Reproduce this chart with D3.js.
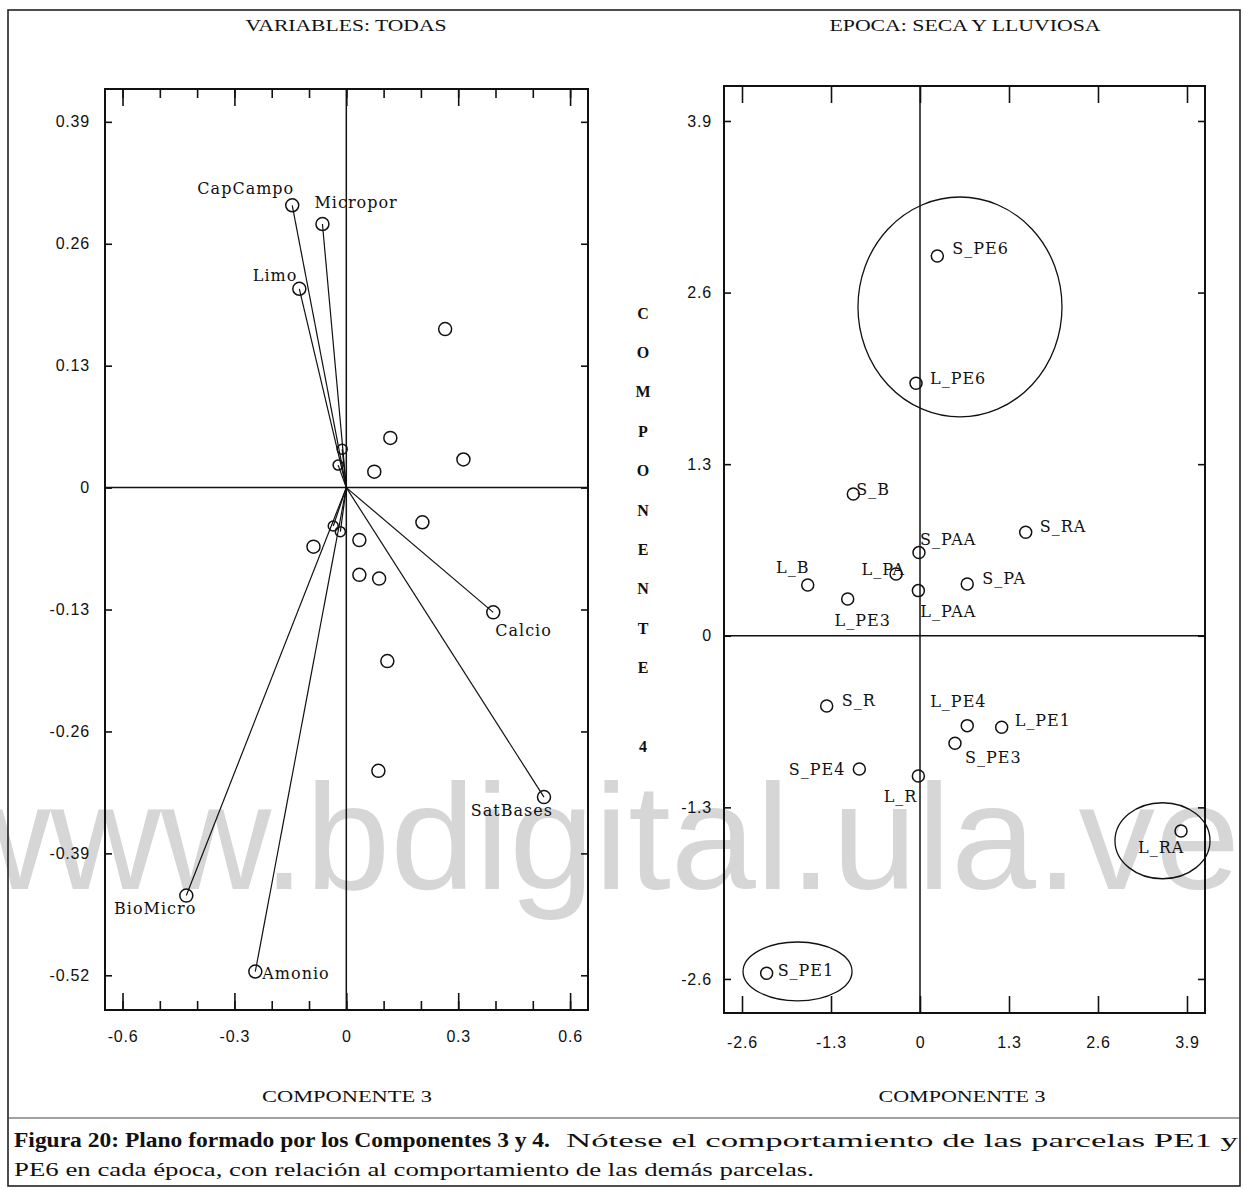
<!DOCTYPE html>
<html lang="es">
<head>
<meta charset="UTF-8">
<title>Figura 20: Plano formado por los Componentes 3 y 4</title>
<script src="https://d3js.org/d3.v7.min.js"></script>
<style>
    body { margin: 0; background: #fff; }
    svg { display: block; }
    .tick text { font-family: "Liberation Sans", Arial, sans-serif; font-size: 16px; letter-spacing: 0.8px; fill: #111; }
    .tick line { stroke: #111; stroke-width: 1.6px; }
    .lbl { font-family: "DejaVu Serif", serif; font-size: 16px; letter-spacing: 1px; fill: #111; }
    .ttl { font-family: "Liberation Serif", serif; font-size: 17px; fill: #111; }
    .cap { font-family: "Liberation Serif", serif; font-size: 19px; fill: #111; }
    .mark { fill: none; stroke: #111; stroke-width: 1.5px; }
</style>
</head>
<body>
<script>
// ---- left panel: variables (componente 3 vs componente 4)
const vectorNames = ["CapCampo", "Micropor", "Limo", "Calcio", "SatBases", "BioMicro", "Amonio"];
const vectorC3 = [-0.145, -0.064, -0.126, 0.394, 0.530, -0.429, -0.244];
const vectorC4 = [0.301, 0.281, 0.212, -0.133, -0.330, -0.435, -0.516];
// short unlabeled vectors close to the origin
const shortC3 = [-0.022, -0.011, -0.035, -0.016];
const shortC4 = [0.024, 0.041, -0.041, -0.047];
// unlabeled points
const pointC3 = [0.265, 0.118, 0.314, 0.075, 0.204, -0.088, 0.035, 0.035, 0.088, 0.110, 0.086];
const pointC4 = [0.169, 0.053, 0.030, 0.017, -0.037, -0.063, -0.056, -0.093, -0.097, -0.185, -0.302];

const leftTicksX = [-0.6, -0.3, 0, 0.3, 0.6];
const leftMinorX = [-0.6, -0.5, -0.4, -0.3, -0.2, -0.1, 0, 0.1, 0.2, 0.3, 0.4, 0.5, 0.6];
const leftTicksY = [0.39, 0.26, 0.13, 0, -0.13, -0.26, -0.39, -0.52];

// ---- right panel: parcelas, seca (S_) y lluviosa (L_)
const parcelNames = ["S_PE6", "L_PE6", "S_B", "S_RA", "S_PAA", "L_PA", "L_B", "S_PA", "L_PAA",
    "L_PE3", "S_R", "L_PE4", "L_PE1", "S_PE3", "S_PE4", "L_R", "L_RA", "S_PE1"];
const parcelC3 = [0.253, -0.058, -0.974, 1.544, -0.015, -0.35, -1.64, 0.69, -0.024,
    -1.056, -1.363, 0.69, 1.193, 0.511, -0.886, -0.024, 3.813, -2.240];
const parcelC4 = [2.877, 1.913, 1.074, 0.784, 0.630, 0.468, 0.385, 0.392, 0.342,
    0.279, -0.532, -0.681, -0.693, -0.815, -1.009, -1.062, -1.479, -2.557];

// hand drawn ellipses around PE6, L_RA and S_PE1 (data units)
const groupC3 = [0.584, 3.542, -1.789];
const groupC4 = [2.491, -1.553, -2.543];
const groupR3 = [1.49, 0.694, 0.796];
const groupR4 = [0.833, 0.288, 0.223];

const rightTicksX = [-2.6, -1.3, 0, 1.3, 2.6, 3.9];
const rightTicksY = [3.9, 2.6, 1.3, 0, -1.3, -2.6];

// label placement: [dx, dy, anchor] from the marker
const labelPos = {
    CapCampo: [2, -17, "end"], Micropor: [-8, -22, "start"], Limo: [-2, -13, "end"],
    Calcio: [2, 18, "start"], SatBases: [9, 13, "end"], BioMicro: [10, 13, "end"], Amonio: [7, 2, "start"],
    S_PE6: [15, -8, "start"], L_PE6: [14, -5, "start"], S_B: [3, -5, "start"], S_RA: [14, -6, "start"],
    S_PAA: [1, -13, "start"], L_PA: [9, -5, "end"], L_B: [-15, -18, "middle"], S_PA: [15, -6, "start"],
    L_PAA: [2, 21, "start"], L_PE3: [15, 21, "middle"], S_R: [15, -6, "start"], L_PE4: [-37, -24, "start"],
    L_PE1: [13, -7, "start"], S_PE3: [10, 14, "start"], S_PE4: [-14, 0, "end"], L_R: [-1, 20, "end"],
    L_RA: [-43, 16, "start"], S_PE1: [11, -3, "start"]
};

const width = 1244, height = 1190;
const svg = d3.select("body").append("svg").attr("width", width).attr("height", height);

// watermark of the scanned page
svg.append("text")
    .attr("x", -60).attr("y", 889)
    .attr("textLength", 1300).attr("lengthAdjust", "spacingAndGlyphs")
    .style("font-family", "'Liberation Sans', Arial, sans-serif")
    .style("font-size", "150px")
    .style("fill", "#d6d6d6")
    .text("www.bdigital.ula.ve");

// page frame
svg.append("rect").attr("x", 8).attr("y", 10).attr("width", 1232).attr("height", 1176)
    .attr("fill", "none").attr("stroke", "#222").attr("stroke-width", 1.6);
svg.append("line").attr("x1", 8).attr("x2", 1240).attr("y1", 1118).attr("y2", 1118)
    .attr("stroke", "#444").attr("stroke-width", 1);

const fmt = d => String(d);

function panel(cfg) {
    const x = d3.scaleLinear().domain(cfg.xDomain).range([cfg.left, cfg.right]);
    const y = d3.scaleLinear().domain(cfg.yDomain).range([cfg.bottom, cfg.top]);
    const g = svg.append("g");

    // axes: ticks point inward on all four sides
    const addAxis = (axis, tx, ty, labels) => {
        const a = g.append("g").attr("transform", `translate(${tx},${ty})`).call(axis);
        a.select(".domain").remove();
        if (!labels) a.selectAll("text").remove();
    };
    if (cfg.minorX) {
        addAxis(d3.axisBottom(x).tickValues(cfg.minorX).tickSize(-9).tickSizeOuter(0), 0, cfg.bottom, false);
        addAxis(d3.axisTop(x).tickValues(cfg.minorX).tickSize(-9).tickSizeOuter(0), 0, cfg.top, false);
    }
    addAxis(d3.axisBottom(x).tickValues(cfg.ticksX).tickFormat(fmt).tickSize(-17).tickPadding(cfg.padX).tickSizeOuter(0), 0, cfg.bottom, true);
    addAxis(d3.axisTop(x).tickValues(cfg.ticksX).tickSize(-17).tickSizeOuter(0), 0, cfg.top, false);
    addAxis(d3.axisLeft(y).tickValues(cfg.ticksY).tickFormat(fmt).tickSize(-7).tickPadding(cfg.padY).tickSizeOuter(0), cfg.left, 0, true);
    addAxis(d3.axisRight(y).tickValues(cfg.ticksY).tickSize(-7).tickSizeOuter(0), cfg.right, 0, false);

    g.append("rect")
        .attr("x", cfg.left).attr("y", cfg.top)
        .attr("width", cfg.right - cfg.left).attr("height", cfg.bottom - cfg.top)
        .attr("fill", "none").attr("stroke", "#111").attr("stroke-width", 2);
    g.append("line").attr("x1", x(0)).attr("x2", x(0)).attr("y1", cfg.top).attr("y2", cfg.bottom)
        .attr("stroke", "#111").attr("stroke-width", 1.5);
    g.append("line").attr("x1", cfg.left).attr("x2", cfg.right).attr("y1", y(0)).attr("y2", y(0))
        .attr("stroke", "#111").attr("stroke-width", 1.5);

    g.append("text").attr("class", "ttl").attr("text-anchor", "middle")
        .attr("x", cfg.titleX).attr("y", 31)
        .attr("textLength", cfg.titleLen).attr("lengthAdjust", "spacingAndGlyphs")
        .text(cfg.title);
    g.append("text").attr("class", "ttl").attr("text-anchor", "middle")
        .attr("x", cfg.xTitleX).attr("y", 1102)
        .attr("textLength", cfg.xTitleLen).attr("lengthAdjust", "spacingAndGlyphs")
        .text("COMPONENTE 3");
    return { g, x, y };
}

// ---------- left panel
const L = panel({
    xDomain: [-0.647, 0.648], yDomain: [-0.557, 0.425],
    left: 105, right: 588, top: 89, bottom: 1010,
    ticksX: leftTicksX, minorX: leftMinorX, ticksY: leftTicksY,
    padX: 21, padY: 15,
    title: "VARIABLES: TODAS", titleX: 346, titleLen: 201,
    xTitleX: 347, xTitleLen: 170
});

const vectors = vectorNames.map((n, i) => ({ name: n, c3: vectorC3[i], c4: vectorC4[i] }))
    .concat(shortC3.map((v, i) => ({ name: "", c3: v, c4: shortC4[i], small: true })));

L.g.selectAll(".vec").data(vectors).join("line")
    .attr("x1", L.x(0)).attr("y1", L.y(0))
    .attr("x2", d => L.x(d.c3)).attr("y2", d => L.y(d.c4))
    .attr("stroke", "#111").attr("stroke-width", 1.2);
L.g.selectAll(".vend").data(vectors).join("circle")
    .attr("class", "mark")
    .attr("cx", d => L.x(d.c3)).attr("cy", d => L.y(d.c4))
    .attr("r", d => d.small ? 5 : 6.5)
    .attr("fill", "#fff");
L.g.selectAll(".pt").data(pointC3.map((v, i) => ({ c3: v, c4: pointC4[i] }))).join("circle")
    .attr("class", "mark")
    .attr("cx", d => L.x(d.c3)).attr("cy", d => L.y(d.c4))
    .attr("r", 6.5);
L.g.selectAll(".vl").data(vectors.filter(d => d.name)).join("text")
    .attr("class", "lbl")
    .attr("x", d => L.x(d.c3) + labelPos[d.name][0])
    .attr("y", d => L.y(d.c4) + labelPos[d.name][1])
    .attr("dy", "0.35em")
    .attr("text-anchor", d => labelPos[d.name][2])
    .text(d => d.name);

// vertical axis title between panels
const yTitle = "COMPONENTE 4".split("");
svg.append("g").selectAll("text").data(yTitle).join("text")
    .attr("class", "ttl")
    .attr("text-anchor", "middle")
    .attr("x", 643)
    .attr("y", (d, i) => 313 + i * 39.4)
    .attr("dy", "0.35em")
    .style("font-weight", "bold")
    .style("font-size", "16px")
    .text(d => d);

// ---------- right panel
const R = panel({
    xDomain: [-2.863, 4.163], yDomain: [-2.858, 4.165],
    left: 724, right: 1205, top: 86, bottom: 1013,
    ticksX: rightTicksX, minorX: null, ticksY: rightTicksY,
    padX: 24, padY: 12,
    title: "EPOCA: SECA Y LLUVIOSA", titleX: 965, titleLen: 271,
    xTitleX: 962, xTitleLen: 167
});

R.g.selectAll(".grp").data(groupC3.map((v, i) => ({ c3: v, c4: groupC4[i], r3: groupR3[i], r4: groupR4[i] })))
    .join("ellipse")
    .attr("class", "mark")
    .attr("cx", d => R.x(d.c3)).attr("cy", d => R.y(d.c4))
    .attr("rx", d => R.x(d.r3) - R.x(0)).attr("ry", d => R.y(0) - R.y(d.r4))
    .style("stroke-width", "1.3px");

const parcels = parcelNames.map((n, i) => ({ name: n, c3: parcelC3[i], c4: parcelC4[i] }));
R.g.selectAll(".pp").data(parcels).join("circle")
    .attr("class", "mark")
    .attr("cx", d => R.x(d.c3)).attr("cy", d => R.y(d.c4))
    .attr("r", 6);
R.g.selectAll(".pl").data(parcels).join("text")
    .attr("class", "lbl")
    .attr("x", d => R.x(d.c3) + labelPos[d.name][0])
    .attr("y", d => R.y(d.c4) + labelPos[d.name][1])
    .attr("dy", "0.35em")
    .attr("text-anchor", d => labelPos[d.name][2])
    .text(d => d.name);

// ---------- caption
svg.append("text").attr("class", "cap").attr("x", 14).attr("y", 1147)
    .attr("textLength", 536).attr("lengthAdjust", "spacingAndGlyphs")
    .style("font-weight", "bold")
    .style("font-size", "20px")
    .text("Figura 20: Plano formado por los Componentes 3 y 4.");
svg.append("text").attr("class", "cap").attr("x", 566).attr("y", 1147)
    .attr("textLength", 672).attr("lengthAdjust", "spacingAndGlyphs")
    .text("Nótese el comportamiento de las parcelas PE1 y");
svg.append("text").attr("class", "cap").attr("x", 14).attr("y", 1176)
    .attr("textLength", 800).attr("lengthAdjust", "spacingAndGlyphs")
    .text("PE6 en cada época, con relación al comportamiento de las demás parcelas.");
</script>
</body>
</html>
